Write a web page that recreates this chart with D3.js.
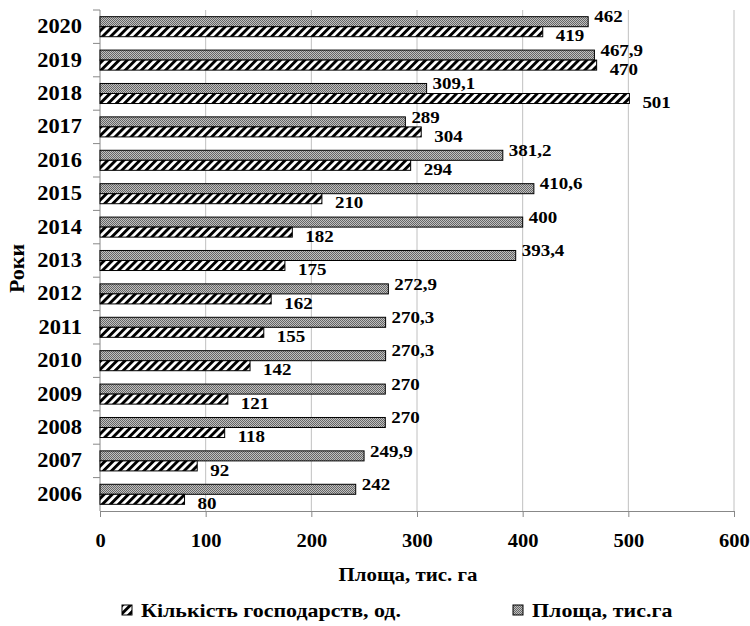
<!DOCTYPE html>
<html><head><meta charset="utf-8">
<script src="https://cdn.jsdelivr.net/npm/d3@7"></script>
<style>body{margin:0;background:#fff}svg{display:block}text{font-family:"Liberation Serif","Times New Roman",serif;font-weight:bold;fill:#000}</style>
</head><body><svg id="c" width="750" height="626"></svg>
<script>
const years = ["2006","2007","2008","2009","2010","2011","2012","2013","2014","2015","2016","2017","2018","2019","2020"];
const farms = [80,92,118,121,142,155,162,175,182,210,294,304,501,470,419];
const area = [242,249.9,270,270,270.3,270.3,272.9,393.4,400,410.6,381.2,289,309.1,467.9,462];
const xTicks = [0,100,200,300,400,500,600];
const seriesNames = ["Кількість господарств, од.","Площа, тис.га"];
const xTitle = "Площа, тис. га";
const yTitle = "Роки";

const svg = d3.select("#c");
const L=100,R=734,T=10,B=511;
const x = d3.scaleLinear().domain([0,600]).range([L,R]);
const yb = d3.scaleBand().domain(years.slice().reverse()).range([T,B]).paddingInner(0.4).paddingOuter(0.2);
const ycat = d3.scaleBand().domain(years.slice().reverse()).range([T,B]).padding(0);
const sub = d3.scaleBand().domain(["area","farms"]).range([0,yb.bandwidth()]);

// horizontally stretched text helper
function stext(g, tx, ty, sx, size, str, anchor){
  const gg = g.append("g").attr("transform",`translate(${tx},${ty}) scale(${sx},1)`);
  return gg.append("text").attr("dy","0.35em").attr("text-anchor",anchor||"start").style("font-size",size+"px").text(str);
}

const defs = svg.append("defs");
const ph = defs.append("pattern").attr("id","hatch").attr("patternUnits","userSpaceOnUse")
  .attr("width",5.7).attr("height",5.7).attr("patternTransform","rotate(45)");
ph.append("rect").attr("width",5.7).attr("height",5.7).attr("fill","#fff");
ph.append("rect").attr("width",2.9).attr("height",5.7).attr("fill","#000");
const pg = defs.append("pattern").attr("id","dots").attr("patternUnits","userSpaceOnUse").attr("width",2).attr("height",2);
pg.append("rect").attr("width",2).attr("height",2).attr("fill","#c0c0c0");
pg.append("rect").attr("width",1).attr("height",1).attr("fill","#666");
pg.append("rect").attr("x",1).attr("y",1).attr("width",1).attr("height",1).attr("fill","#666");

// grid
svg.append("g").selectAll("line").data(xTicks.slice(1)).join("line")
  .attr("x1",d=>x(d)).attr("x2",d=>x(d)).attr("y1",T).attr("y2",B).attr("stroke","#c0c0c0");

// x axis
const xa = svg.append("g").attr("transform",`translate(0,${B})`)
  .call(d3.axisBottom(x).tickValues(xTicks).tickSize(6).tickPadding(17));
xa.select(".domain").attr("stroke","#888");
xa.selectAll(".tick line").attr("stroke","#888");
xa.selectAll("text").style("font-size","19px").attr("transform","scale(1.08,1)");

// y axis
const ysx = 1.12;
const ya = svg.append("g").attr("transform",`translate(${L},0)`)
  .call(d3.axisLeft(yb).tickSize(0).tickPadding(0));
ya.select(".domain").remove();
ya.selectAll("text").style("font-size","20px").attr("x",-18/ysx).attr("transform",`scale(${ysx},1)`);
svg.append("line").attr("x1",L).attr("x2",L).attr("y1",T).attr("y2",B).attr("stroke","#888");
svg.append("g").selectAll("line").data(years).join("line")
  .attr("x1",L-7).attr("x2",L).attr("y1",d=>ycat(d)).attr("y2",d=>ycat(d)).attr("stroke","#888");

const rows = years.map((y,i)=>({y,farms:farms[i],area:area[i]}));
const fmt = v => String(v).replace(".",",");

// bars
svg.append("g").selectAll("rect").data(rows).join("rect")
  .attr("x",x(0)).attr("y",d=>yb(d.y)+sub("area")).attr("height",sub.bandwidth())
  .attr("width",d=>x(d.area)-x(0)).attr("fill","url(#dots)").attr("stroke","#000").attr("stroke-width",1);
svg.append("g").selectAll("rect").data(rows).join("rect")
  .attr("x",x(0)).attr("y",d=>yb(d.y)+sub("farms")).attr("height",sub.bandwidth())
  .attr("width",d=>x(d.farms)-x(0)).attr("fill","url(#hatch)").attr("stroke","#000").attr("stroke-width",1);

// labels
const lab = svg.append("g");
rows.forEach(d=>{
  stext(lab, x(d.area)+6, yb(d.y)+sub("area")+sub.bandwidth()/2-5, 1.15, 16.5, fmt(d.area));
  stext(lab, x(d.farms)+13, yb(d.y)+sub("farms")+sub.bandwidth()/2+4, 1.15, 16.5, fmt(d.farms));
});

// titles
stext(svg, (L+R)/2+(408-417), 574, 1.1, 19, xTitle, "middle");
svg.append("text").attr("transform",`translate(17,${(T+B)/2+8}) rotate(-90) scale(1.1,1)`).attr("dy","0.35em")
  .attr("text-anchor","middle").style("font-size","20px").text(yTitle);

// legend
const lg = svg.append("g");
const items = [{name:seriesNames[0],fill:"url(#hatch)",x:122},{name:seriesNames[1],fill:"url(#dots)",x:513}];
items.forEach(it=>{
  lg.append("rect").attr("x",it.x).attr("y",605).attr("width",10).attr("height",10)
    .attr("fill",it.fill).attr("stroke","#000");
  stext(lg, it.x+19, 611, 1.22, 18, it.name);
});
</script></body></html>
